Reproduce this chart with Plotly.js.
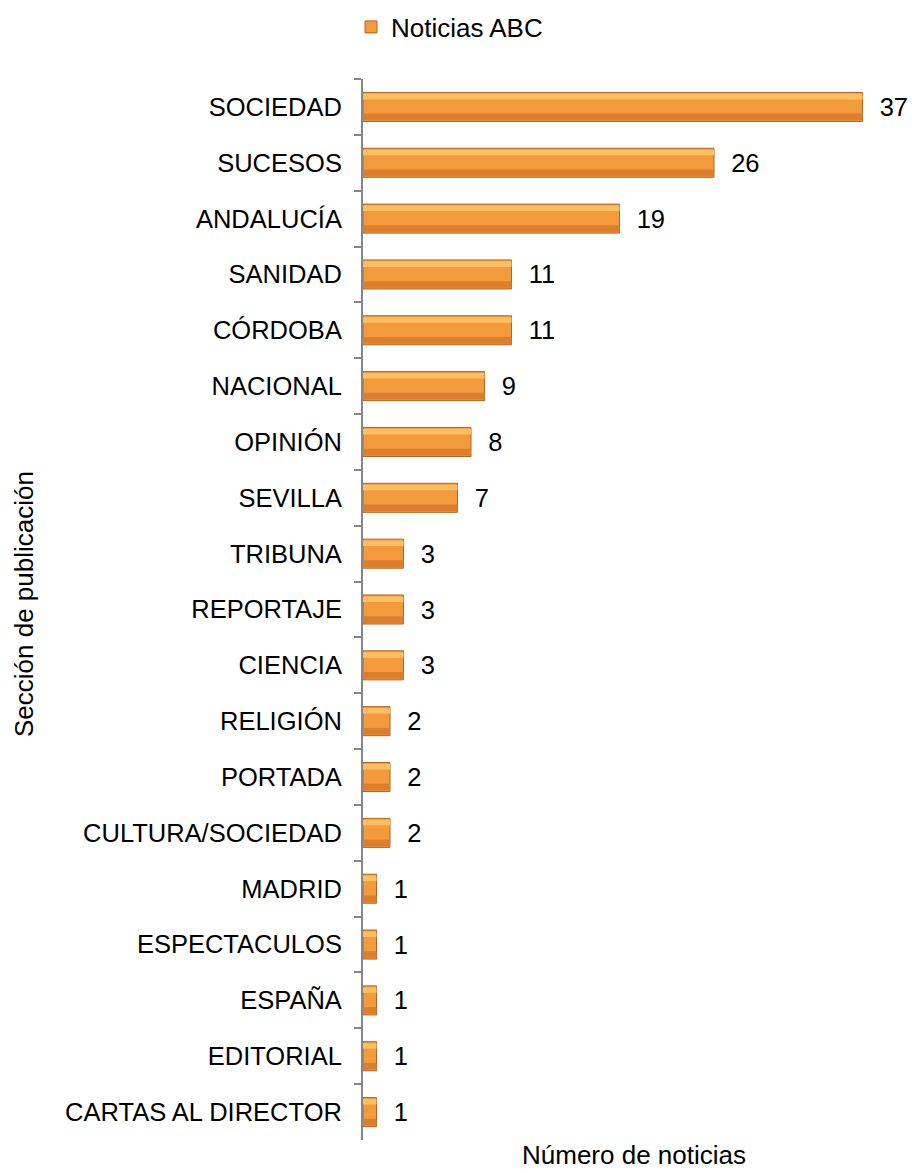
<!DOCTYPE html>
<html>
<head>
<meta charset="utf-8">
<script src="https://cdn.plot.ly/plotly-3.0.1.min.js"></script>
<style>html,body{margin:0;padding:0;background:#fff;}#chart{width:912px;height:1173px;}</style>
</head>
<body>
<div id="chart"></div>
<script>
const categories = ["SOCIEDAD","SUCESOS","ANDALUCÍA","SANIDAD","CÓRDOBA","NACIONAL","OPINIÓN","SEVILLA","TRIBUNA","REPORTAJE","CIENCIA","RELIGIÓN","PORTADA","CULTURA/SOCIEDAD","MADRID","ESPECTACULOS","ESPAÑA","EDITORIAL","CARTAS AL DIRECTOR"];
const values = [37,26,19,11,11,9,8,7,3,3,3,2,2,2,1,1,1,1,1];
const seriesName = "Noticias ABC";
const xTitle = "Número de noticias";
const yTitle = "Sección de publicación";

const FONT = "Liberation Sans, Arial, sans-serif";

// main bar
const trace = {
  type: "bar",
  orientation: "h",
  name: seriesName,
  x: values,
  y: categories,
  width: 0.52,
  offset: -0.26,
  marker: {color: "#F29A3C", line: {color: "#B8621F", width: 1}},
  text: values.map(v => "\u00a0\u00a0" + v),
  textposition: "outside",
  textfont: {family: FONT, size: 25.5, color: "#000"},
  cliponaxis: false,
  hoverinfo: "skip"
};
// shading layers (same data, decorative gradient imitation)
const highlight = {
  type: "bar", orientation: "h", x: values, y: categories,
  width: 0.1, offset: -0.235, marker: {color: "#FDBF62", line: {width: 0}},
  showlegend: false, hoverinfo: "skip"
};
const lowShade = {
  type: "bar", orientation: "h", x: values, y: categories,
  width: 0.12, offset: 0.12, marker: {color: "#DC7E2C", line: {width: 0}},
  showlegend: false, hoverinfo: "skip"
};

const layout = {
  width: 912, height: 1173,
  margin: {l: 363, r: 9, t: 79, b: 33, autoexpand: false},
  paper_bgcolor: "#fff", plot_bgcolor: "#fff",
  font: {family: FONT, size: 26, color: "#000"},
  barmode: "overlay",
  showlegend: true,
  legend: {orientation: "h", xref: "container", yref: "container",
           x: 351/912, xanchor: "left", y: 1 - 27/1173, yanchor: "middle",
           font: {family: FONT, size: 26, color: "#000"}},
  xaxis: {range: [0, 40], visible: false, showgrid: false, zeroline: false, fixedrange: true},
  yaxis: {type: "category", autorange: "reversed", tickson: "boundaries",
          ticks: "outside", ticklen: 7, tickwidth: 2, tickcolor: "#868686",
          showline: true, linecolor: "#868686", linewidth: 2,
          ticklabelstandoff: 14, showgrid: false, zeroline: false,
          tickfont: {family: FONT, size: 25.5, color: "#000"}},
  annotations: [
    {text: xTitle, xref: "paper", yref: "paper", x: (634-363)/540, y: -(1172-1140)/1061,
     xanchor: "center", yanchor: "bottom", showarrow: false, font: {family: FONT, size: 26, color: "#000"}},
    {text: yTitle, xref: "paper", yref: "paper", x: -(363-24)/540, y: 1-(604-79)/1061,
     xanchor: "center", yanchor: "middle", textangle: -90, showarrow: false, font: {family: FONT, size: 26, color: "#000"}}
  ]
};

Plotly.newPlot("chart", [trace, highlight, lowShade], layout, {staticPlot: true, displayModeBar: false});
</script>
</body>
</html>
